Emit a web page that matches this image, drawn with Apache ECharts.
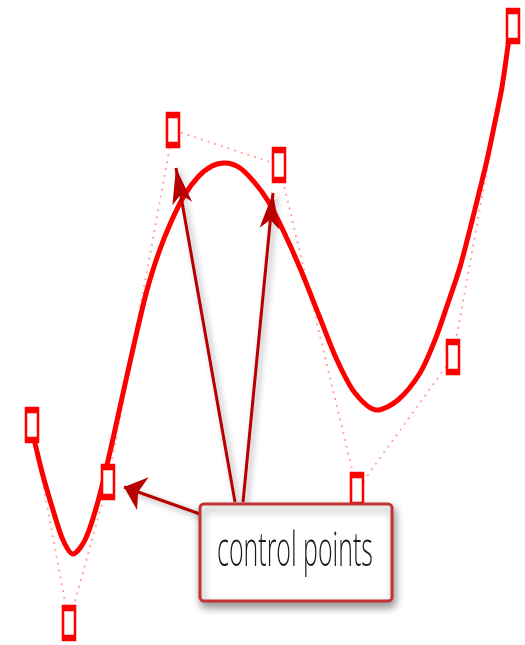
<!DOCTYPE html>
<html><head><meta charset="utf-8">
<script src="https://cdn.jsdelivr.net/npm/echarts@6/dist/echarts.min.js"></script>
<style>html,body{margin:0;padding:0;background:#fff}#c{width:525px;height:645px}</style>
</head><body><div id="c"></div>
<script>
// Curve (pixel-space data units, y grows downward)
const curveX = [32,42,53,63,73,85,97,110,122,135,147,159,171,184,198,212,225,240,255,268,282,300,320,337,355,377,398,420,435,448,460,470,479,487,495,502,509];
const curveY = [430,472,510,540,554,540,505,452,398,340,290,252,222,196,177,166,163,168,183,201,228,268,318,360,393,410,400,373,340,303,267,229,193,160,122,87,38];
// Control points
const controlX = [32,69,108,173,279,357,453,513];
const controlY = [425,623,482,130,165,490,357,26];
// Callout arrows (from box to tip)
const arrowFromX = [235,243];
const arrowFromY = [502,502];
const arrowToX = [176,273];
const arrowToY = [168,193];
const sideArrowFrom = [200,514];
const sideArrowTo = [124,487];
const calloutText = 'control points';

const chart = echarts.init(document.getElementById('c'), null, {renderer:'canvas'});
const curveData = curveX.map((x,i)=>[x,curveY[i]]);
const ctrlData = controlX.map((x,i)=>[x,controlY[i]]);
const arrowData = arrowFromX.map((x,i)=>({coords:[[x,arrowFromY[i]],[arrowToX[i],arrowToY[i]]]}));
const arrowStyle = {color:'#b80000', width:3, opacity:1, shadowBlur:6, shadowColor:'rgba(0,0,0,0.35)', shadowOffsetX:3, shadowOffsetY:3};

chart.setOption({
  animation:false,
  backgroundColor:'#fff',
  grid:{left:0,right:0,top:0,bottom:0},
  xAxis:{type:'value',min:0,max:525,show:false},
  yAxis:{type:'value',min:0,max:645,inverse:true,show:false},
  series:[
    {type:'line', data:ctrlData, symbol:'none', z:1,
     lineStyle:{color:'rgba(255,60,60,0.45)', width:2, type:[2,5]}},
    {type:'line', data:curveData, symbol:'none', smooth:0.3, z:2,
     lineStyle:{color:'#ff0000', width:5}},
    {type:'lines', coordinateSystem:'cartesian2d', z:3, data:arrowData,
     symbol:['none','arrow'], symbolSize:[1,[15,36]], symbolOffset:[0,[0,'50%']],
     lineStyle:arrowStyle},
    {type:'lines', coordinateSystem:'cartesian2d', z:3,
     data:[{coords:[sideArrowFrom, sideArrowTo]}],
     symbol:['none','arrow'], symbolSize:[1,[26,20]], symbolOffset:[0,[0,'50%']],
     lineStyle:arrowStyle},
    {type:'scatter', data:ctrlData, symbol:'rect', symbolSize:[12,30], z:4,
     itemStyle:{color:'#fff', borderColor:'#ff0000', borderWidth:4, opacity:1}}
  ],
  graphic:[
    {type:'rect', z:100, shape:{x:200,y:504,width:192,height:97,r:4},
     style:{fill:'#fff', stroke:'#c43333', lineWidth:3, shadowBlur:8, shadowOffsetX:2, shadowOffsetY:5, shadowColor:'rgba(0,0,0,0.4)'}},
    {type:'text', z:101, x:295, y:552, scaleX:0.52,
     style:{text:calloutText, x:0, y:0, align:'center', verticalAlign:'middle',
            font:'300 48px "Open Sans", "Noto Sans", sans-serif', fill:'#1a1a1a'}}
  ]
});
</script></body></html>
